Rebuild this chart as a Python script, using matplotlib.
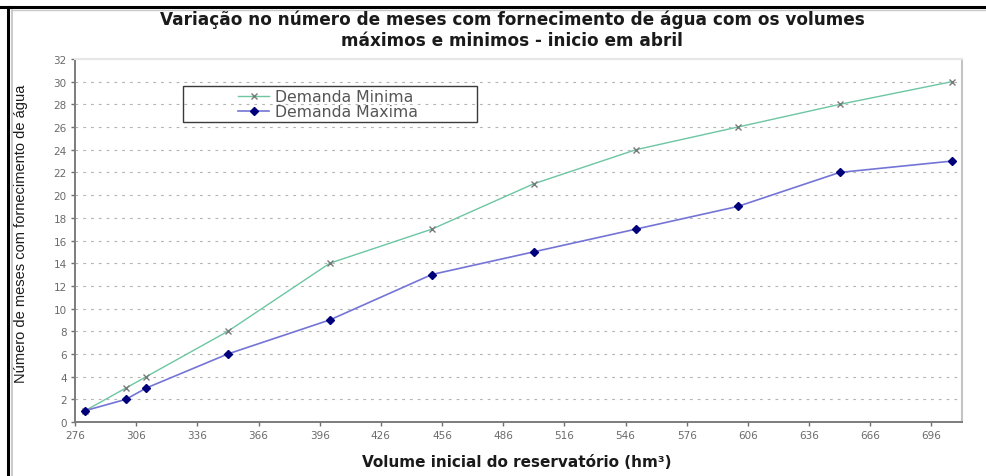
import matplotlib
matplotlib.use('Agg')
import matplotlib.pyplot as plt
from matplotlib.lines import Line2D
from matplotlib.patches import Rectangle

# Volume inicial do reservatório (hm³) e meses com fornecimento
volume = [281, 301, 311, 351, 401, 451, 501, 551, 601, 651, 706]
demanda_minima = [1, 3, 4, 8, 14, 17, 21, 24, 26, 28, 30]
demanda_maxima = [1, 2, 3, 6, 9, 13, 15, 17, 19, 22, 23]

x_ticks = list(range(276, 697, 30))
y_ticks = list(range(0, 33, 2))

titulo = ('Variação no número de meses com fornecimento de água com os volumes\n'
          'máximos e minimos - inicio em abril')
rotulo_x = 'Volume inicial do reservatório (hm³)'
rotulo_y = 'Número de meses com fornecimento de água'
legenda = ['Demanda Minima', 'Demanda Maxima']

W, H = 986, 477
fig = plt.figure(figsize=(W / 100, H / 100), dpi=100)
fig.patch.set_facecolor('white')

ax = fig.add_axes([75 / W, 1 - 423 / H, (962 - 75) / W, (423 - 60) / H])

# grade horizontal pontilhada
for yv in y_ticks[1:-1]:
    ax.axhline(yv, color='#b4b4b4', lw=0.8, ls=(0, (2.5, 4.5)), zorder=0)

l1, = ax.plot(volume, demanda_minima, color='#6cc6a2', lw=1.0,
              marker='x', ms=4.5, mec='#7a7a7a', mew=1.0, zorder=3)
l2, = ax.plot(volume, demanda_maxima, color='#7474d6', lw=1.2,
              marker='D', ms=4.5, mfc='#00007a', mec='#00007a', zorder=4)

ax.set_xlim(276, 711)
ax.set_ylim(0, 32)
ax.set_xticks(x_ticks)
ax.set_yticks(y_ticks)
ax.tick_params(axis='both', direction='out', length=3, width=1,
               color='#707070', labelsize=7.5, labelcolor='#6a6a6a', pad=3)

for side in ['left', 'bottom']:
    ax.spines[side].set_color('#7c7c7c')
    ax.spines[side].set_linewidth(1.4)
ax.spines['right'].set_color('#c4c4c4')
ax.spines['right'].set_linewidth(1.5)
ax.spines['top'].set_color('#e6e6e6')
ax.spines['top'].set_linewidth(1.5)

fig.text(512 / W, 1 - 20 / H, titulo.split('\n')[0], ha='center', va='center',
         fontsize=12.2, fontweight='bold', color='#1a1a1a')
fig.text(512 / W, 1 - 41 / H, titulo.split('\n')[1], ha='center', va='center',
         fontsize=12.2, fontweight='bold', color='#1a1a1a')
fig.text(517 / W, 1 - 463 / H, rotulo_x, ha='center', va='center',
         fontsize=11, fontweight='bold', color='#1a1a1a')
fig.text(21 / W, 1 - 234 / H, rotulo_y, ha='center', va='center', rotation=90,
         fontsize=10.5, color='#1a1a1a',
         fontfamily=['Liberation Sans Narrow', 'Liberation Sans'])

# legenda com moldura própria
fig.add_artist(Rectangle((183 / W, 1 - 123 / H), (477 - 183) / W, 36 / H,
                         transform=fig.transFigure, fill=False,
                         ec='#3a3a3a', lw=1.0))
fig.legend([l1, l2], legenda, loc='center left',
           bbox_to_anchor=(238 / W, 1 - 105 / H), frameon=False,
           fontsize=11.3, labelcolor='#555555', handlelength=2.0,
           handletextpad=0.35, labelspacing=0.0, borderpad=0, borderaxespad=0)

# moldura externa
fig.add_artist(Line2D([0, 1], [1 - 8 / H, 1 - 8 / H], transform=fig.transFigure,
                      color='black', lw=2.2))
fig.add_artist(Line2D([0.012, 1], [1 - 10.5 / H, 1 - 10.5 / H],
                      transform=fig.transFigure, color='#c8c8c8', lw=1.0))
fig.add_artist(Line2D([8 / W, 8 / W], [0, 1 - 8 / H], transform=fig.transFigure,
                      color='black', lw=2.2))
fig.add_artist(Line2D([12 / W, 12 / W], [0, 1 - 10.5 / H],
                      transform=fig.transFigure, color='#c0c0c0', lw=1.2))

fig.savefig('out.png', dpi=100)
